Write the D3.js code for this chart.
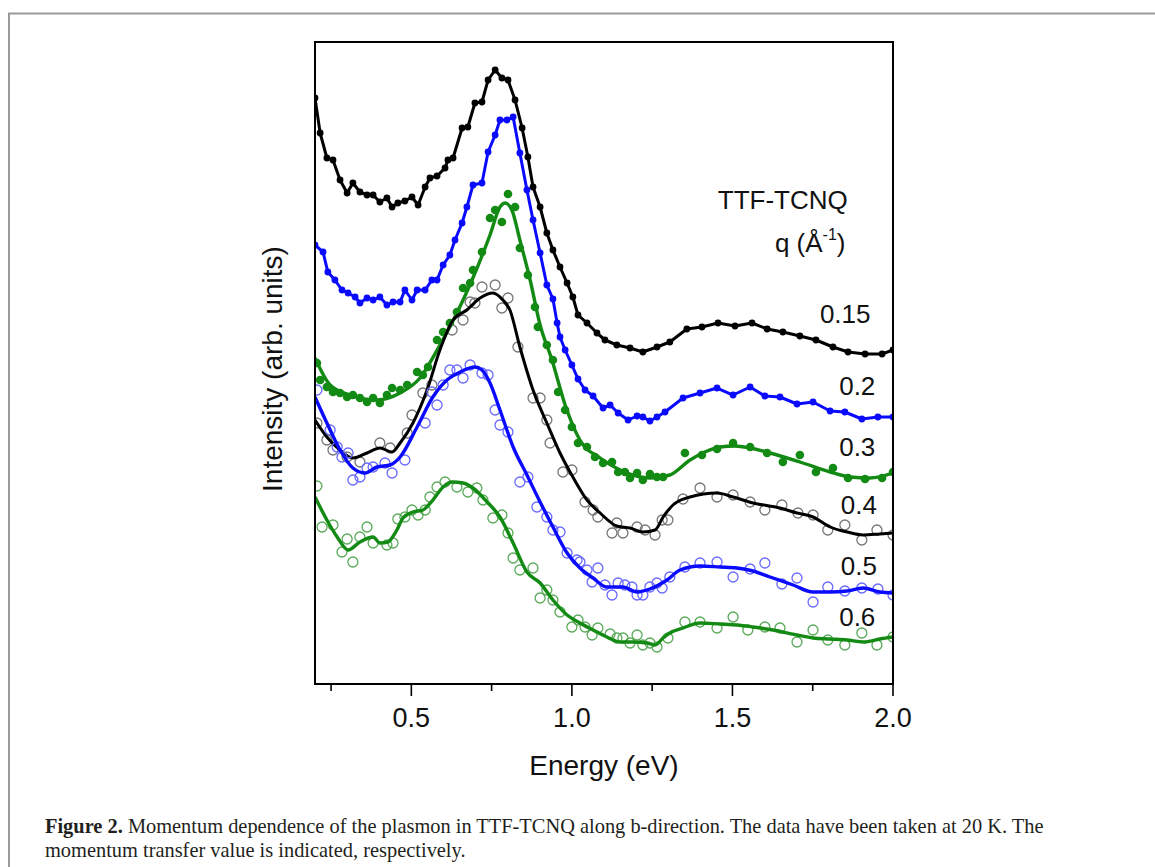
<!DOCTYPE html>
<html>
<head>
<meta charset="utf-8">
<script src="https://cdn.jsdelivr.net/npm/d3@7"></script>
<style>
  body { margin: 0; background: #fff; }
  text { font-family: "Liberation Sans", Arial, sans-serif; }
</style>
</head>
<body>
<script>
// q = 0.15, 0.2 : filled dots joined by a line
const q015 = [[0.200,586],[0.216,551],[0.237,526],[0.256,524],[0.278,504],[0.300,491],[0.318,501],[0.340,492],[0.362,489],[0.381,489],[0.402,482],[0.424,486],[0.440,477],[0.458,481],[0.480,483],[0.502,487],[0.521,479],[0.543,497],[0.558,506],[0.580,508],[0.605,516],[0.614,524],[0.630,526],[0.658,556],[0.676,557],[0.698,581],[0.720,582],[0.739,604],[0.761,614],[0.782,606],[0.801,604],[0.823,584],[0.845,556],[0.863,527],[0.879,497],[0.901,477],[0.922,451],[0.941,434],[0.963,417],[0.985,401],[1.003,387],[1.019,369],[1.047,361],[1.078,351],[1.103,344],[1.140,339],[1.181,336],[1.221,332],[1.265,337],[1.305,342],[1.358,355],[1.405,357],[1.455,361],[1.508,358],[1.561,361],[1.608,355],[1.657,352],[1.710,348],[1.760,344],[1.813,337],[1.860,332],[1.913,330],[1.966,330],[2.000,334]];
const q02 = [[0.200,439],[0.225,432],[0.240,412],[0.262,404],[0.284,394],[0.303,391],[0.325,387],[0.340,381],[0.362,386],[0.381,384],[0.402,387],[0.424,379],[0.443,382],[0.465,382],[0.480,394],[0.502,384],[0.518,394],[0.543,394],[0.564,404],[0.580,404],[0.599,419],[0.620,429],[0.636,444],[0.658,461],[0.673,477],[0.692,499],[0.720,501],[0.739,532],[0.761,549],[0.776,564],[0.798,564],[0.817,567],[0.838,531],[0.860,494],[0.879,464],[0.901,431],[0.922,399],[0.941,385],[0.954,361],[0.963,347],[0.979,334],[1.000,319],[1.019,305],[1.041,294],[1.066,288],[1.097,276],[1.119,279],[1.144,271],[1.175,264],[1.203,268],[1.221,267],[1.243,263],[1.265,267],[1.290,272],[1.346,286],[1.399,291],[1.452,296],[1.502,289],[1.555,297],[1.601,288],[1.648,287],[1.701,280],[1.751,282],[1.804,273],[1.850,272],[1.903,265],[1.953,267],[2.000,267]];

// q = 0.3 : filled dots with a smooth curve
const q03Dots = [[0.206,321],[0.216,304],[0.237,297],[0.256,292],[0.278,291],[0.300,287],[0.318,289],[0.340,286],[0.362,282],[0.381,286],[0.402,281],[0.424,289],[0.440,296],[0.465,294],[0.487,299],[0.518,312],[0.536,309],[0.552,317],[0.580,344],[0.599,352],[0.620,361],[0.642,372],[0.661,396],[0.683,401],[0.692,414],[0.720,432],[0.745,466],[0.761,474],[0.782,462],[0.801,490],[0.823,477],[0.838,436],[0.863,409],[0.885,377],[0.894,357],[0.922,339],[0.941,324],[0.957,292],[0.979,274],[1.000,257],[1.019,241],[1.047,237],[1.072,227],[1.097,221],[1.125,222],[1.144,212],[1.165,212],[1.181,206],[1.203,211],[1.221,204],[1.243,210],[1.265,207],[1.284,207],[1.352,231],[1.405,229],[1.452,235],[1.502,241],[1.555,237],[1.608,231],[1.657,222],[1.710,229],[1.760,212],[1.813,216],[1.860,206],[1.913,205],[1.966,206],[2.000,212]];
const q03Fit = [[0.200,326],[0.247,299],[0.309,289],[0.393,284],[0.465,291],[0.527,306],[0.589,339],[0.642,371],[0.689,404],[0.745,449],[0.776,477],[0.792,481],[0.813,474],[0.838,444],[0.870,404],[0.901,359],[0.938,324],[0.979,279],[1.025,244],[1.088,226],[1.150,214],[1.243,206],[1.305,209],[1.368,224],[1.414,232],[1.461,237],[1.508,238],[1.555,236],[1.617,231],[1.710,222],[1.804,212],[1.866,207],[1.928,206],[2.000,211]];

// q = 0.4, 0.5, 0.6 : open circles with a smooth curve
const q04Dots = [[0.206,261],[0.237,244],[0.256,234],[0.300,227],[0.340,222],[0.402,241],[0.434,236],[0.487,251],[0.502,269],[0.536,291],[0.564,299],[0.627,354],[0.661,364],[0.683,382],[0.698,381],[0.720,397],[0.761,399],[0.782,376],[0.801,386],[0.832,337],[0.879,286],[0.901,286],[0.922,264],[0.932,241],[0.972,212],[1.000,214],[1.041,182],[1.066,174],[1.081,167],[1.125,151],[1.140,161],[1.159,151],[1.203,157],[1.228,154],[1.259,149],[1.281,164],[1.299,164],[1.346,185],[1.399,196],[1.452,187],[1.502,189],[1.555,182],[1.601,174],[1.654,179],[1.704,171],[1.751,169],[1.797,154],[1.850,159],[1.903,144],[1.950,154],[2.000,149]];
const q04Fit = [[0.200,264],[0.237,247],[0.278,234],[0.318,226],[0.362,231],[0.402,236],[0.440,232],[0.465,241],[0.505,261],[0.549,294],[0.589,334],[0.630,364],[0.673,374],[0.714,386],[0.754,391],[0.785,384],[0.807,374],[0.838,337],[0.879,294],[0.922,261],[0.963,231],[1.003,207],[1.047,184],[1.088,171],[1.140,158],[1.181,156],[1.221,152],[1.259,154],[1.284,167],[1.315,179],[1.368,187],[1.452,191],[1.502,187],[1.564,181],[1.648,176],[1.701,171],[1.751,167],[1.804,157],[1.857,152],[1.907,149],[1.959,150],[2.000,151]];
const q05Dots = [[0.206,294],[0.247,254],[0.269,237],[0.284,227],[0.303,231],[0.318,204],[0.340,207],[0.362,216],[0.381,217],[0.418,221],[0.440,211],[0.480,224],[0.543,261],[0.564,292],[0.580,279],[0.599,299],[0.620,314],[0.642,314],[0.661,306],[0.683,319],[0.720,311],[0.739,309],[0.761,274],[0.776,259],[0.801,252],[0.838,202],[0.863,207],[0.891,177],[0.922,167],[0.941,154],[0.963,152],[0.985,131],[1.016,124],[1.025,122],[1.047,114],[1.063,102],[1.081,116],[1.103,99],[1.125,89],[1.144,101],[1.165,99],[1.187,97],[1.203,89],[1.221,89],[1.243,97],[1.265,101],[1.281,96],[1.305,107],[1.352,117],[1.399,121],[1.452,122],[1.502,107],[1.555,115],[1.601,121],[1.654,100],[1.701,106],[1.751,82],[1.797,97],[1.850,93],[1.903,96],[1.953,95],[2.000,89]];
const q05Fit = [[0.200,287],[0.237,261],[0.278,234],[0.318,216],[0.356,211],[0.393,217],[0.434,219],[0.465,227],[0.518,257],[0.567,287],[0.611,304],[0.652,312],[0.698,317],[0.720,314],[0.745,301],[0.776,274],[0.817,237],[0.860,209],[0.901,182],[0.941,157],[0.985,131],[1.025,116],[1.066,106],[1.109,97],[1.159,97],[1.203,92],[1.243,95],[1.296,104],[1.337,114],[1.399,118],[1.461,117],[1.514,116],[1.564,113],[1.617,107],[1.689,99],[1.751,92],[1.804,92],[1.857,93],[1.907,96],[1.959,92],[2.000,91]];
const q06Dots = [[0.206,198],[0.222,157],[0.256,159],[0.284,132],[0.300,145],[0.318,122],[0.340,147],[0.362,157],[0.381,141],[0.424,139],[0.443,141],[0.458,165],[0.480,167],[0.502,174],[0.521,169],[0.543,174],[0.558,187],[0.580,197],[0.605,202],[0.642,197],[0.676,192],[0.704,196],[0.723,184],[0.754,166],[0.782,169],[0.801,151],[0.817,126],[0.838,114],[0.879,116],[0.901,86],[0.922,94],[0.941,84],[0.963,72],[1.000,57],[1.019,64],[1.041,57],[1.063,49],[1.081,56],[1.119,50],[1.140,46],[1.159,46],[1.181,41],[1.203,49],[1.221,39],[1.243,41],[1.265,37],[1.299,46],[1.352,62],[1.399,62],[1.452,56],[1.502,67],[1.548,54],[1.601,57],[1.648,56],[1.701,42],[1.751,54],[1.797,44],[1.850,39],[1.903,51],[1.950,39],[2.000,47]];
const q06Fit = [[0.200,187],[0.237,164],[0.269,147],[0.303,134],[0.340,142],[0.381,147],[0.402,141],[0.427,142],[0.455,154],[0.474,166],[0.505,172],[0.536,174],[0.567,184],[0.599,197],[0.627,202],[0.661,201],[0.692,196],[0.736,182],[0.776,167],[0.817,141],[0.860,112],[0.901,101],[0.941,84],[0.985,69],[1.025,61],[1.066,54],[1.109,47],[1.150,42],[1.190,42],[1.234,41],[1.259,39],[1.284,46],[1.305,51],[1.346,56],[1.399,61],[1.461,60],[1.514,59],[1.564,57],[1.626,54],[1.701,49],[1.751,46],[1.804,45],[1.857,44],[1.907,42],[1.959,45],[2.000,47]];

const qLabels = ["0.15", "0.2", "0.3", "0.4", "0.5", "0.6"];
const xMajor = [0.5, 1.0, 1.5, 2.0];
const xMinor = [0.25, 0.75, 1.25, 1.75];

const series = [
  { label: "0.15", line: q015, dots: q015, color: "#000", dot: "#000", filled: true, r: 3.4, lw: 3 },
  { label: "0.2", line: q02, dots: q02, color: "#0a0aff", dot: "#0a0aff", filled: true, r: 3.4, lw: 3 },
  { label: "0.3", line: q03Fit, dots: q03Dots, color: "#138a13", dot: "#138a13", filled: true, r: 4.3, lw: 3.4 },
  { label: "0.4", line: q04Fit, dots: q04Dots, color: "#000", dot: "#777", filled: false, r: 5, lw: 3 },
  { label: "0.5", line: q05Fit, dots: q05Dots, color: "#0a0aff", dot: "#6a6aff", filled: false, r: 5, lw: 3.4 },
  { label: "0.6", line: q06Fit, dots: q06Dots, color: "#138a13", dot: "#5aaa5a", filled: false, r: 5, lw: 3.4 }
];
// label placement: [energy of right end, intensity of baseline]
const labelAt = [[1.93, 361], [1.945, 289], [1.945, 228], [1.95, 170], [1.95, 109], [1.945, 58]];

const W = 1155, H = 867;
const margin = { left: 315, top: 42, right: 262, bottom: 183 };
const pw = W - margin.left - margin.right;
const ph = H - margin.top - margin.bottom;

const svg = d3.select("body").append("svg").attr("width", W).attr("height", H);

// page frame
svg.append("rect")
  .attr("x", 9).attr("y", 13.5).attr("width", W + 20).attr("height", H + 20)
  .attr("fill", "none").attr("stroke", "#9a9a9a").attr("stroke-width", 2);

const x = d3.scaleLinear().domain([0.2, 2.0]).range([0, pw]);
const y = d3.scaleLinear().domain([0, 642]).range([ph, 0]);

const g = svg.append("g").attr("transform", `translate(${margin.left},${margin.top})`);

g.append("clipPath").attr("id", "clip")
  .append("rect").attr("width", pw).attr("height", ph);

const plot = g.append("g").attr("clip-path", "url(#clip)");

const smooth = d3.line().x(d => x(d[0])).y(d => y(d[1])).curve(d3.curveMonotoneX);
const straight = d3.line().x(d => x(d[0])).y(d => y(d[1]));

series.forEach((s, i) => {
  const layer = plot.append("g").attr("class", "series");
  if (!s.filled) {
    layer.selectAll("circle").data(s.dots).join("circle")
      .attr("cx", d => x(d[0])).attr("cy", d => y(d[1])).attr("r", s.r)
      .attr("fill", "none").attr("stroke", s.dot).attr("stroke-width", 1.3);
  }
  layer.append("path")
    .attr("d", (s.line === s.dots ? straight : smooth)(s.line))
    .attr("fill", "none").attr("stroke", s.color)
    .attr("stroke-width", s.lw).attr("stroke-linejoin", "round");
  if (s.filled) {
    layer.selectAll("circle").data(s.dots).join("circle")
      .attr("cx", d => x(d[0])).attr("cy", d => y(d[1])).attr("r", s.r)
      .attr("fill", s.dot);
  }
});

// frame
g.append("rect").attr("width", pw).attr("height", ph)
  .attr("fill", "none").attr("stroke", "#000").attr("stroke-width", 2);

// x ticks
const xAxis = g.append("g").attr("transform", `translate(0,${ph})`);
xAxis.selectAll("line.minor").data(xMinor).join("line")
  .attr("class", "minor")
  .attr("x1", d => x(d)).attr("x2", d => x(d)).attr("y1", 0).attr("y2", 7)
  .attr("stroke", "#000").attr("stroke-width", 1.6);
xAxis.selectAll("line.major").data(xMajor).join("line")
  .attr("class", "major")
  .attr("x1", d => x(d)).attr("x2", d => x(d)).attr("y1", 0).attr("y2", 12)
  .attr("stroke", "#000").attr("stroke-width", 1.6);
xAxis.selectAll("text").data(xMajor).join("text")
  .attr("x", d => x(d)).attr("y", 43)
  .attr("text-anchor", "middle").attr("font-size", 27).attr("fill", "#111")
  .text(d => d.toFixed(1));

g.append("text")
  .attr("x", pw / 2).attr("y", ph + 91)
  .attr("text-anchor", "middle").attr("font-size", 28).attr("fill", "#111")
  .text("Energy (eV)");

g.append("text")
  .attr("transform", `translate(${-33},${ph / 2 + 6}) rotate(-90)`)
  .attr("text-anchor", "middle").attr("font-size", 28).attr("fill", "#111")
  .text("Intensity (arb. units)");

// q labels
g.selectAll("text.q").data(qLabels).join("text")
  .attr("class", "q")
  .attr("x", (d, i) => x(labelAt[i][0])).attr("y", (d, i) => y(labelAt[i][1]))
  .attr("text-anchor", "end").attr("font-size", 26).attr("fill", "#111")
  .text(d => d);

// legend title
g.append("text")
  .attr("x", x(1.859)).attr("y", 167)
  .attr("text-anchor", "end").attr("font-size", 26).attr("fill", "#111")
  .text("TTF-TCNQ");
const qt = g.append("text")
  .attr("x", x(1.852)).attr("y", 210)
  .attr("text-anchor", "end").attr("font-size", 26).attr("fill", "#111");
qt.append("tspan").text("q (Å");
qt.append("tspan").attr("font-size", 16).attr("dy", -12).text("-1");
qt.append("tspan").attr("dy", 12).text(")");

// caption
const cap = svg.append("g").attr("font-size", 20.4).attr("fill", "#231f20");
const l1 = cap.append("text").attr("x", 45).attr("y", 833).style("font-family", "'Liberation Serif', serif");
l1.append("tspan").attr("font-weight", "bold").text("Figure 2.");
l1.append("tspan").text(" Momentum dependence of the plasmon in TTF-TCNQ along b-direction. The data have been taken at 20 K. The");
cap.append("text").attr("x", 45).attr("y", 857).style("font-family", "'Liberation Serif', serif")
  .text("momentum transfer value is indicated, respectively.");
</script>
</body>
</html>
